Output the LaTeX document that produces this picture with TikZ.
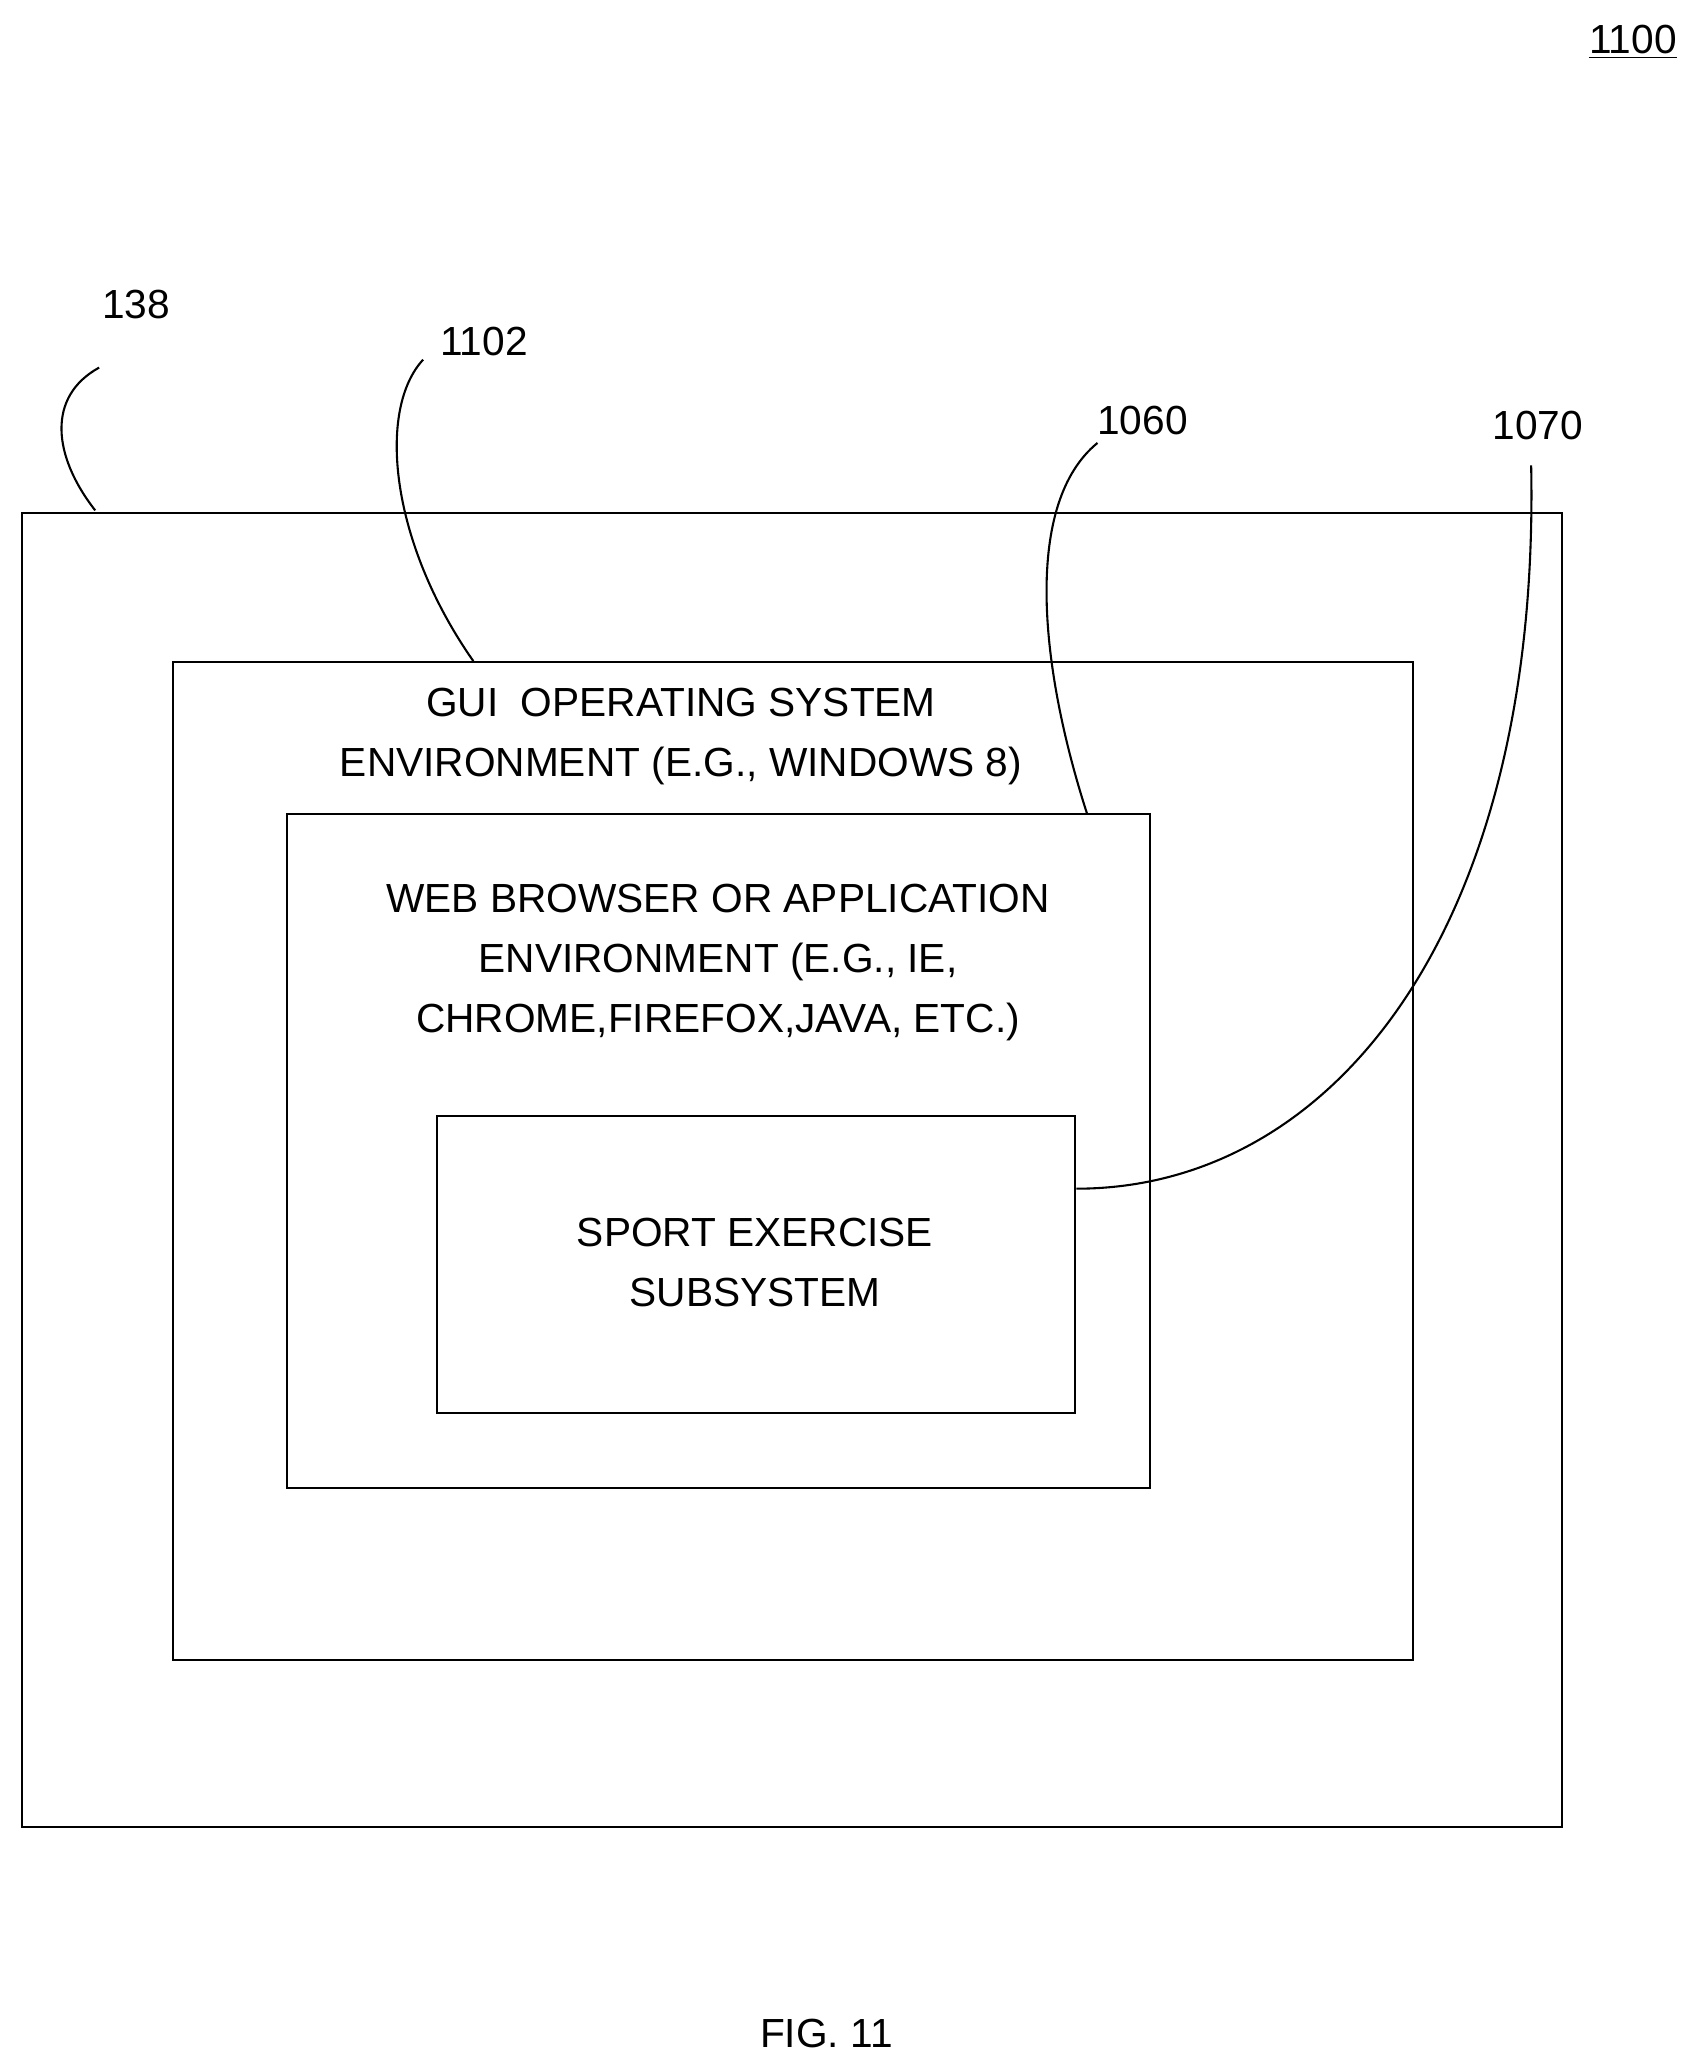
\documentclass[tikz,border=0pt]{standalone}
\usepackage{fontspec}
\setmainfont{Liberation Sans}
\begin{document}
\begin{tikzpicture}[x=0.02cm,y=-0.02cm,
  box/.style={draw, line width=0.9pt, anchor=north west, inner sep=0pt},
  txt/.style={font=\fontsize{17.5}{26}\selectfont, align=center},
  lead/.style={line width=0.9pt}]
\useasboundingbox (0,0) rectangle (1280,1561);

% boxes
\node[box, minimum width=23.3cm, minimum height=19.88cm] (dev) at (16,387) {};
\node[box, minimum width=18.76cm, minimum height=15.1cm] (os) at (130,500) {};
\node[box, minimum width=13.06cm, minimum height=10.2cm] (web) at (216,615) {};
\node[box, minimum width=9.64cm, minimum height=4.5cm] (sport) at (330,843) {};

% texts
\node[txt] (ostxt) at (515,557) {GUI\ \ OPERATING SYSTEM\\ENVIRONMENT (E.G., WINDOWS 8)};
\node[txt] (webtxt) at (543,728) {WEB BROWSER OR APPLICATION\\ENVIRONMENT (E.G., IE,\\CHROME,FIREFOX,JAVA, ETC.)};
\node[txt] (sporttxt) at (571,955) {SPORT EXERCISE\\SUBSYSTEM};

% labels
\node[txt] (l138) at (103,230) {138};
\node[txt] (l1102) at (366,258) {1102};
\node[txt] (l1060) at (864,318) {1060};
\node[txt] (l1070) at (1163,322) {1070};
\node[txt] (l1100) at (1235,32) {\underline{1100}};
\node[txt] (fig) at (625,1538) {FIG. 11};

% leaders
\coordinate (p138) at (72,386);
\coordinate (p1102) at (358,500);
\coordinate (p1060) at (822,615);
\coordinate (p1070) at (814,899);
\draw[lead] (p138) .. controls (40,345) and (35,300) .. (75,278);
\draw[lead] (p1102) .. controls (295,410) and (285,310) .. (320,272);
\draw[lead] (p1060) .. controls (785,500) and (775,380) .. (830,335);
\draw[lead] (p1070) .. controls (1010,899) and (1165,700) .. (1158,352);
\end{tikzpicture}
\end{document}
